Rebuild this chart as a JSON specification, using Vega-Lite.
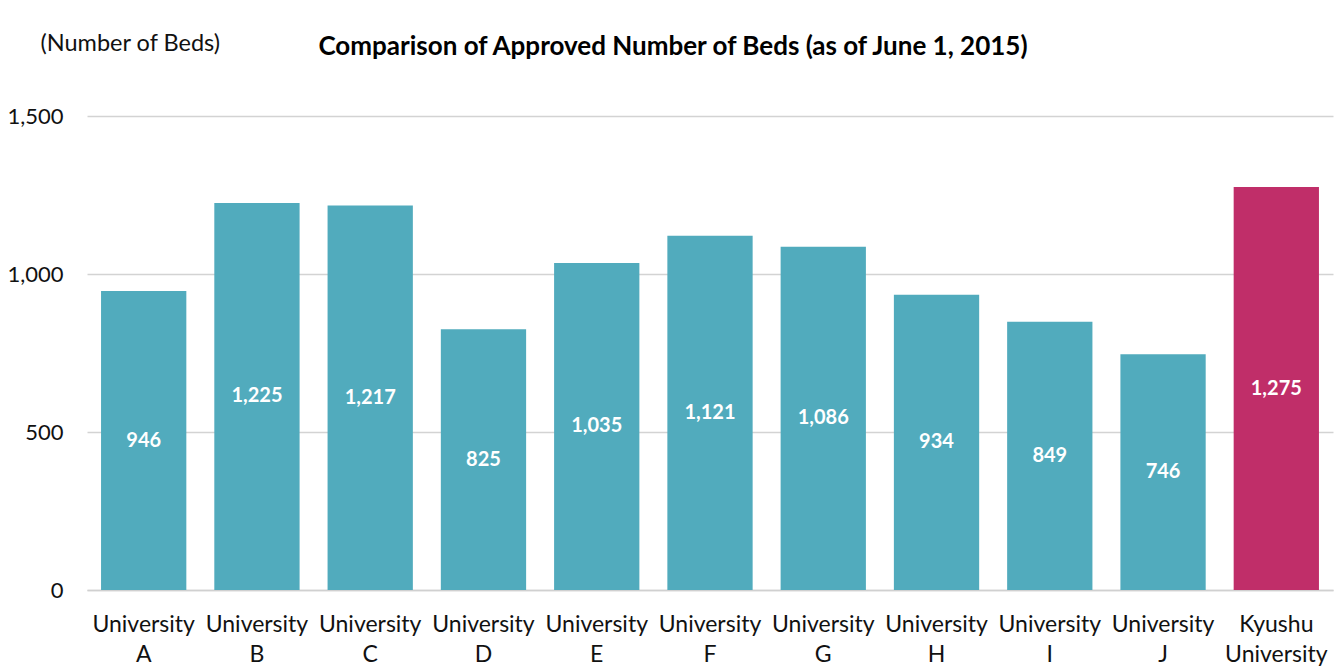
{
  "$schema": "https://vega.github.io/schema/vega-lite/v6.json",
  "width": 1246,
  "height": 474,
  "autosize": {"type": "none"},
  "padding": {"left": 87, "top": 116, "right": 9, "bottom": 78},
  "background": "white",
  "config": {"font": "Lato", "view": {"stroke": null}},
  "title": {
    "text": "Comparison of Approved Number of Beds (as of June 1, 2015)",
    "fontSize": 26,
    "fontWeight": "bold",
    "font": "Lato",
    "color": "#000000",
    "anchor": "middle",
    "frame": "group",
    "dx": -37,
    "offset": 0,
    "dy": 29
  },
  "data": {
    "values": [
      {"name": "University A", "beds": 946, "group": "other"},
      {"name": "University B", "beds": 1225, "group": "other"},
      {"name": "University C", "beds": 1217, "group": "other"},
      {"name": "University D", "beds": 825, "group": "other"},
      {"name": "University E", "beds": 1035, "group": "other"},
      {"name": "University F", "beds": 1121, "group": "other"},
      {"name": "University G", "beds": 1086, "group": "other"},
      {"name": "University H", "beds": 934, "group": "other"},
      {"name": "University I", "beds": 849, "group": "other"},
      {"name": "University J", "beds": 746, "group": "other"},
      {"name": "Kyushu University", "beds": 1275, "group": "kyushu"}
    ]
  },
  "encoding": {
    "x": {
      "field": "name",
      "type": "nominal",
      "sort": null,
      "scale": {"paddingInner": 0.247, "paddingOuter": 0.124},
      "axis": {
        "title": null,
        "labelAngle": 0,
        "labelExpr": "split(datum.label, ' ')",
        "labelFontSize": 23,
        "labelFont": "Lato",
        "labelColor": "#111111",
        "labelLineHeight": 30,
        "labelPadding": 23,
        "labelBaseline": "top",
        "ticks": false,
        "domainColor": "#d0d0d0",
        "domainWidth": 1.5
      }
    }
  },
  "layer": [
    {
      "mark": {"type": "bar"},
      "encoding": {
        "y": {
          "field": "beds",
          "type": "quantitative",
          "scale": {"domain": [0, 1500], "nice": false},
          "axis": {
            "title": "(Number of Beds)",
            "titleAngle": 0,
            "titleAlign": "left",
            "titleBaseline": "alphabetic",
            "titleX": -47,
            "titleY": -66,
            "titleFont": "Lato",
            "titleFontSize": 23.5,
            "titleFontWeight": "normal",
            "titleColor": "#111111",
            "values": [0, 500, 1000, 1500],
            "format": ",d",
            "labelFontSize": 22,
            "labelFont": "Lato",
            "labelColor": "#111111",
            "labelPadding": 24,
            "ticks": false,
            "domain": false,
            "gridColor": "#d3d3d3",
            "gridWidth": 1.5
          }
        },
        "color": {
          "field": "group",
          "type": "nominal",
          "scale": {"domain": ["other", "kyushu"], "range": ["#51ABBD", "#C02E69"]},
          "legend": null
        }
      }
    },
    {
      "transform": [{"calculate": "datum.beds / 2", "as": "labelPos"}],
      "mark": {"type": "text", "color": "white", "fontWeight": "bold", "fontSize": 20, "font": "Lato", "baseline": "middle"},
      "encoding": {
        "y": {"field": "labelPos", "type": "quantitative", "scale": {"domain": [0, 1500], "nice": false}},
        "text": {"field": "beds", "type": "quantitative", "format": ",d"}
      }
    }
  ]
}
